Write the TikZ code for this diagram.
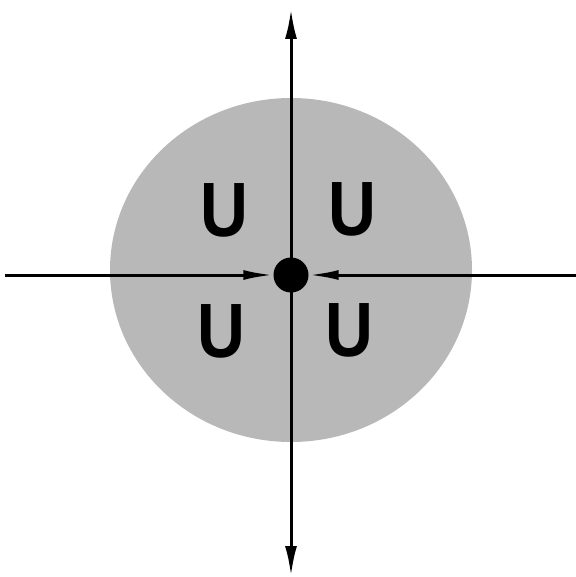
\documentclass[tikz,border=0pt]{standalone}
\usepackage{fontspec}
\setmainfont{Liberation Sans}
\usetikzlibrary{arrows.meta}
\definecolor{discgray}{gray}{0.72}
\tikzset{
  axis/.style={line width=3pt, draw=black},
  tiph/.style={-{Latex[length=30pt,width=10pt]}},
  ulabel/.style={font=\fontsize{77}{77}\selectfont\bfseries, inner sep=0pt, text=black, xscale=0.86}
}
\begin{document}
\begin{tikzpicture}[x=1pt,y=-1pt]
\useasboundingbox (0,0) rectangle (575,577);
\fill[discgray] (291,270) ellipse [x radius=181pt, y radius=172pt];
\node[circle, fill=black, minimum size=35pt, inner sep=0pt] (c) at (291,275) {};
\coordinate (T) at (291,9);
\coordinate (B) at (291,576);
\coordinate (L) at (5,275);
\coordinate (R) at (576,275);
\draw[axis, {Latex[length=30pt,width=12pt]}-{Latex[length=30pt,width=12pt]}] (B) -- (T);
\draw[axis, tiph] (L) -- (c);
\draw[axis, tiph] (R) -- (c);
\node[ulabel] (u1) at (224,210) {U};
\node[ulabel] (u2) at (352,209) {U};
\node[ulabel] (u3) at (221,331) {U};
\node[ulabel] (u4) at (349,330) {U};
\end{tikzpicture}
\end{document}
